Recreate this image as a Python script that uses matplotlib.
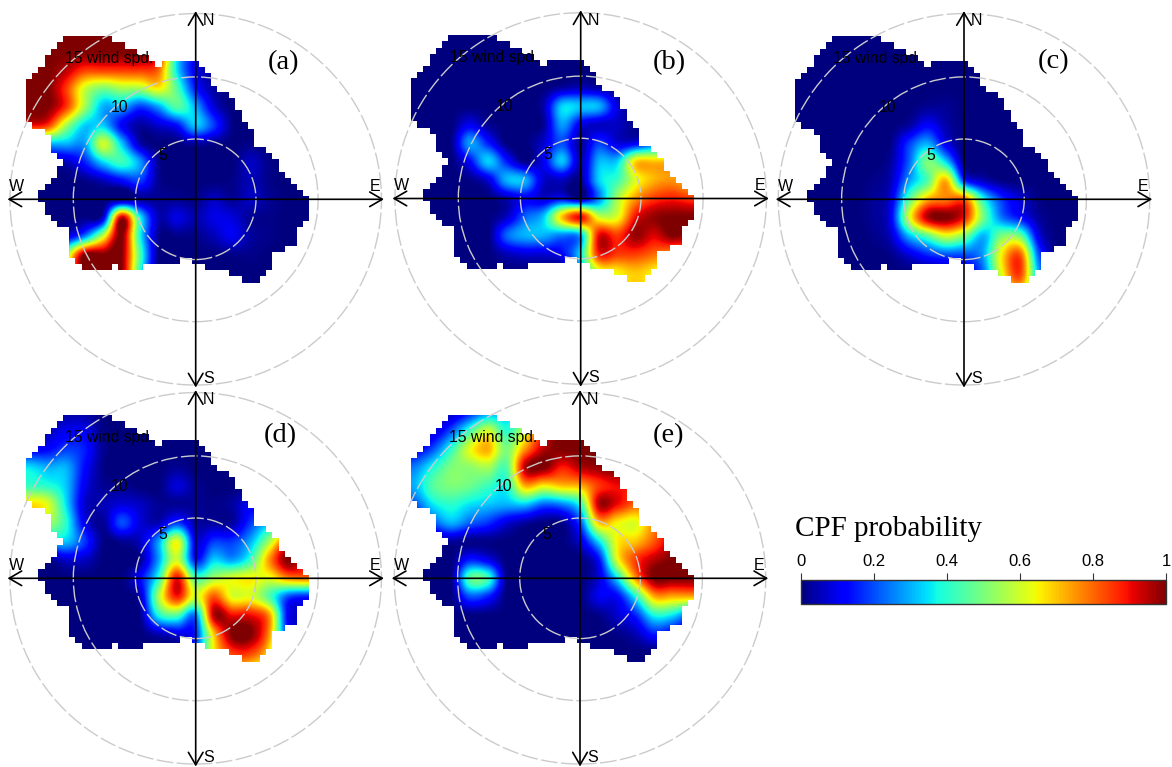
import numpy as np
import matplotlib
matplotlib.use("Agg")
import matplotlib.pyplot as plt
from matplotlib.path import Path
from matplotlib.patches import Circle
from matplotlib.cm import ScalarMappable
from matplotlib.colors import Normalize

# grid of the CPF field, wind speed components (columns west-east, rows north-south)
grid_u = [-13.5, -12, -10.5, -9, -7.5, -6, -4.5, -3, -1.5, 0, 1.5, 3, 4.5, 6, 7.5, 9, 10.5]
grid_v = [13.5, 12, 10.5, 9, 7.5, 6, 4.5, 3, 1.5, 0, -1.5, -3, -4.5, -6, -7.5]

panel_a = [
    [1, 1, 1, 1, 1, 1, 1, .7, .3, .1, 0, 0, 0, 0, 0, 0, 0],
    [1, 1, 1, 1, 1, 1, 1, .9, .35, .12, .02, 0, 0, 0, 0, 0, 0],
    [1, 1, .95, .85, .85, .85, .85, .8, .35, .1, .03, 0, 0, 0, 0, 0, 0],
    [1, 1, .85, .6, .5, .55, .55, .65, .45, .15, .03, 0, 0, 0, 0, 0, 0],
    [1, 1, .85, .55, .3, .3, .18, .28, .45, .3, .08, 0, 0, 0, 0, 0, 0],
    [.9, .85, .55, .33, .33, .12, .03, .07, .13, .32, .18, .01, 0, 0, 0, 0, 0],
    [.3, .3, .3, .28, .6, .33, .05, 0, 0, .03, .01, 0, .01, 0, 0, 0, 0],
    [.05, .05, .05, .15, .33, .42, .28, .02, 0, 0, 0, 0, .06, .01, 0, 0, 0],
    [0, 0, 0, .01, .05, .12, .18, .02, 0, 0, 0, .01, .05, .01, 0, 0, 0],
    [0, 0, 0, 0, 0, 0, .03, .02, .02, .01, .06, .02, .06, .02, 0, 0, 0],
    [0, 0, 0, .01, .08, .95, .38, .05, .09, .04, .09, .08, .02, .01, 0, 0, 0],
    [0, 0, .08, .25, .6, 1, .38, .02, .01, .01, .05, .1, .03, .01, 0, 0, 0],
    [0, 0, .5, 1, 1, 1, .45, .01, 0, 0, 0, .01, .01, 0, 0, 0, 0],
    [0, 0, .6, 1, 1, 1, .4, 0, 0, 0, 0, 0, 0, 0, 0, 0, 0],
    [0, 0, .6, 1, 1, 1, .4, 0, 0, 0, 0, 0, 0, 0, 0, 0, 0],
]
panel_b = [
    [0, 0, 0, 0, 0, 0, 0, 0, 0, 0, 0, 0, 0, 0, 0, 0, 0],
    [0, 0, 0, 0, 0, 0, 0, 0, 0, 0, 0, 0, 0, 0, 0, 0, 0],
    [0, 0, 0, 0, 0, 0, 0, 0, 0, 0, 0, 0, 0, 0, 0, 0, 0],
    [0, 0, 0, 0, 0, 0, 0, 0, .03, .05, .03, 0, 0, 0, 0, 0, 0],
    [0, 0, 0, 0, 0, 0, 0, .04, .33, .32, .3, .08, 0, 0, 0, 0, 0],
    [0, 0, 0, .1, .02, 0, 0, .02, .28, .1, .06, .06, .01, 0, 0, 0, 0],
    [0, 0, .01, .28, .15, 0, 0, .07, .2, .03, .18, .08, .1, .2, .2, 0, 0],
    [0, 0, 0, .12, .33, .15, .01, .1, .32, .05, .3, .33, .68, .7, .7, .7, 0],
    [0, 0, 0, .01, .08, .3, .3, .07, .06, .02, .33, .42, .62, .72, .75, .7, .7],
    [0, 0, 0, 0, 0, .05, .12, .07, .12, .03, .25, .55, .75, .85, .88, .85, .85],
    [0, 0, 0, 0, 0, .06, .22, .32, .7, .9, .6, .62, .9, .98, 1, 1, 1],
    [0, 0, 0, 0, 0, .22, .3, .3, .25, .3, .9, .85, .98, .92, 1, .95, .95],
    [0, 0, 0, 0, 0, .05, .08, .08, .12, .35, .88, .85, .85, .8, .75, .75, .75],
    [0, 0, 0, 0, 0, 0, 0, 0, 0, .3, .6, .65, .7, .65, .6, .6, .6],
    [0, 0, 0, 0, 0, 0, 0, 0, 0, .3, .6, .65, .7, .65, .6, .6, .6],
]
panel_c = [
    [0, 0, 0, 0, 0, 0, 0, 0, 0, 0, 0, 0, 0, 0, 0, 0, 0],
    [0, 0, 0, 0, 0, 0, 0, 0, 0, 0, 0, 0, 0, 0, 0, 0, 0],
    [0, 0, 0, 0, 0, 0, 0, 0, 0, 0, 0, 0, 0, 0, 0, 0, 0],
    [0, 0, 0, 0, 0, 0, 0, 0, 0, 0, 0, 0, 0, 0, 0, 0, 0],
    [0, 0, 0, 0, 0, 0, 0, .02, .02, 0, 0, 0, 0, 0, 0, 0, 0],
    [0, 0, 0, 0, 0, 0, .03, .12, .04, 0, 0, 0, 0, 0, 0, 0, 0],
    [0, 0, 0, 0, 0, .01, .18, .3, .1, 0, 0, 0, 0, 0, 0, 0, 0],
    [0, 0, 0, 0, 0, .03, .22, .5, .35, .01, 0, 0, 0, 0, 0, 0, 0],
    [0, 0, 0, 0, .01, .05, .28, .45, .72, .18, .06, .01, 0, 0, 0, 0, 0],
    [0, 0, 0, 0, .02, .08, .45, .72, .78, .8, .4, .18, .08, .01, 0, 0, 0],
    [0, 0, 0, 0, .02, .1, .6, .95, 1, .88, .5, .25, .14, .03, 0, 0, 0],
    [0, 0, 0, 0, .01, .06, .3, .45, .6, .5, .3, .5, .5, .1, 0, 0, 0],
    [0, 0, 0, 0, 0, .01, .08, .16, .2, .2, .28, .65, .82, .22, 0, 0, 0],
    [0, 0, 0, 0, 0, 0, 0, .01, .03, .08, .22, .62, .85, .3, 0, 0, 0],
    [0, 0, 0, 0, 0, 0, 0, 0, 0, 0, .2, .5, .7, .3, 0, 0, 0],
]
panel_d = [
    [0, .03, .03, .03, 0, 0, 0, 0, 0, 0, 0, 0, 0, 0, 0, 0, 0],
    [0, .05, .1, .1, .01, 0, 0, 0, 0, 0, 0, 0, 0, 0, 0, 0, 0],
    [.1, .12, .18, .15, .02, 0, 0, 0, 0, 0, 0, 0, 0, 0, 0, 0, 0],
    [.35, .3, .3, .13, .01, 0, 0, 0, .02, 0, 0, 0, 0, 0, 0, 0, 0],
    [.42, .4, .32, .1, .02, .02, 0, 0, .08, .02, 0, 0, 0, 0, 0, 0, 0],
    [.68, .62, .35, .07, .05, .08, .06, .02, .02, .02, .01, .03, .1, 0, 0, 0, 0],
    [.6, .55, .4, .1, .02, .2, .08, .05, .18, .04, .03, .03, .18, .3, .3, 0, 0],
    [.3, .3, .32, .18, .01, .02, .06, .28, .63, .1, .18, .18, .3, .55, .85, .85, 0],
    [0, .01, .07, .06, 0, 0, .02, .28, .6, .15, .33, .28, .42, .75, 1, .9, .9],
    [0, 0, 0, 0, 0, 0, .12, .4, .9, .45, .55, .62, .65, .62, .75, .78, .78],
    [0, 0, 0, 0, 0, 0, .05, .55, .88, .6, .82, .62, .62, .45, .2, .15, .15],
    [0, 0, 0, 0, 0, 0, .01, .38, .45, .25, .95, .9, .9, .75, .12, .1, .1],
    [0, 0, 0, 0, 0, 0, 0, .05, .09, .16, .7, 1, 1, .75, .15, .1, .1],
    [0, 0, 0, 0, 0, 0, 0, 0, 0, .2, .65, .85, .85, .65, .1, 0, 0],
    [0, 0, 0, 0, 0, 0, 0, 0, 0, .2, .6, .7, .65, .5, .1, 0, 0],
]
panel_e = [
    [.03, .05, .05, .15, .28, .32, .45, .6, .9, 1, 1, 0, 0, 0, 0, 0, 0],
    [.05, .07, .2, .42, .6, .4, .6, .85, 1, 1, .95, .9, 0, 0, 0, 0, 0],
    [.1, .2, .4, .62, .72, .5, .75, .95, 1, 1, 1, .95, .9, 0, 0, 0, 0],
    [.25, .38, .5, .52, .55, .45, .95, 1, .88, .95, .98, 1, .95, 0, 0, 0, 0],
    [.3, .45, .5, .48, .42, .38, .72, .65, .7, .72, .85, .9, .88, .85, 0, 0, 0],
    [.2, .35, .4, .35, .32, .3, .32, .22, .25, .4, .95, .9, .8, .8, 0, 0, 0],
    [.1, .2, .3, .22, .17, .08, .03, 0, .01, .2, .7, .65, .62, .78, .85, 0, 0],
    [0, .01, .03, .01, .01, 0, 0, 0, 0, .08, .35, .65, .7, .82, .95, .95, 0],
    [0, 0, 0, .15, .1, 0, 0, 0, 0, 0, .13, .62, .85, .95, 1, 1, 1],
    [0, 0, 0, .45, .42, .01, 0, 0, 0, 0, .08, .35, .75, 1, 1, 1, 1],
    [0, 0, 0, .2, .15, 0, 0, 0, 0, 0, .1, .12, .38, .72, .72, .72, .72],
    [0, 0, 0, 0, 0, 0, 0, 0, 0, 0, .01, .07, .16, .38, .35, .2, .2],
    [0, 0, 0, 0, 0, 0, 0, 0, 0, 0, 0, .01, .05, .15, .1, .03, 0],
    [0, 0, 0, 0, 0, 0, 0, 0, 0, 0, 0, 0, 0, 0, 0, 0, 0],
    [0, 0, 0, 0, 0, 0, 0, 0, 0, 0, 0, 0, 0, 0, 0, 0, 0],
]

# edge of the sampled wind range
edge_u = [-2.22, -0.19, .08, .49, 1.03, 1.44, 1.98, 2.93, 3.47, 3.6, 4.42, 4.69, 5.77, 6.59, 6.99, 7.67, 8.62, 9.16,
          9.35, 9.35, 8.48, 8.08, 6.31, 6.18, 5.5, 4.69, 4.15, 2.79, 1.44, .08, -1.0, -1.14, -4.25, -4.8, -6.02, -6.56,
          -7.24, -8.59, -9.67, -10.22, -10.08, -11.44, -12.66, -12.52, -11.57, -10.89, -11.84, -12.11, -13.6, -13.96,
          -13.96, -12.52, -12.38, -10.89, -10.08, -6.42, -5.88, -3.71, -3.04, -2.76]
edge_v = [11.46, 11.46, 11.06, 10.65, 10.03, 9.43, 8.94, 8.48, 7.53, 6.59, 6.04, 4.55, 4.15, 3.33, 2.11, 1.57, .76, .22,
          -.05, -1.41, -2.22, -3.58, -4.39, -5.47, -6.02, -6.83, -6.83, -6.02, -5.75, -5.07, -4.93, -5.34, -5.34, -5.88,
          -5.88, -5.34, -5.88, -5.88, -5.34, -4.39, -2.76, -1.82, -.05, .76, 1.44, 2.93, 4.28, 5.5, 6.04, 6.72,
          9.43, 10.65, 11.6, 12.95, 13.36, 12.95, 12.68, 11.6, 10.65, 11.06]

ring_speeds = [4.9, 9.95, 15.1]
cbar_ticks = [0, 0.2, 0.4, 0.6, 0.8, 1]
cbar_labels = ["0", "0.2", "0.4", "0.6", "0.8", "1"]

W, H = 1172, 767
PX = 12.3  # pixels per wind speed unit

plt.rcParams["font.family"] = ["Liberation Sans", "DejaVu Sans"]
fig = plt.figure(figsize=(W / 100, H / 100), dpi=100)

# white cover outside the sampled range, blocky like the original
ext = [grid_u[0] - .75, grid_u[-1] + .75, grid_v[-1] - .75, grid_v[0] + .75]
mask_u, mask_v = np.meshgrid(np.arange(ext[0] + .25, ext[1], .5), np.arange(ext[3] - .25, ext[2], -.5))
inside = Path(np.column_stack([edge_u, edge_v])).contains_points(np.column_stack([mask_u.ravel(), mask_v.ravel()]))
cover = np.ones(mask_u.shape + (4,))
cover[..., 3] = ~inside.reshape(mask_u.shape)


def draw_panel(values, cx, cy, letter, lx, ly):
    half = 16 * PX
    ax = fig.add_axes([(cx - half) / W, 1 - (cy + half) / H, 2 * half / W, 2 * half / H])
    ax.set_xlim(-16, 16)
    ax.set_ylim(-16, 16)
    ax.axis("off")
    ax.patch.set_alpha(0)

    ax.imshow(values, cmap="jet", vmin=0, vmax=1, extent=ext, interpolation="catrom", aspect="auto", zorder=1)
    ax.imshow(cover, extent=ext, interpolation="nearest", aspect="auto", zorder=2)
    ax.set_xlim(-16, 16)
    ax.set_ylim(-16, 16)

    for r in ring_speeds:
        ax.add_patch(Circle((0, 0), r, fill=False, ec="#cbcbcb", lw=1.0, ls=(0, (12, 2.5)), zorder=3, clip_on=False))

    arrow = dict(arrowstyle="<->,head_length=0.6,head_width=0.35", color="black", lw=1.2,
                 shrinkA=0, shrinkB=0, mutation_scale=15)
    ax.annotate("", xy=(15.3, 0), xytext=(-15.3, 0), arrowprops=arrow, zorder=4, annotation_clip=False)
    ax.annotate("", xy=(0, 15.3), xytext=(0, -15.3), arrowprops=arrow, zorder=4, annotation_clip=False)

    for name, x, y in [("N", 1.05, 14.5), ("S", 1.05, -14.55), ("E", 14.55, 1.05), ("W", -14.55, 1.05)]:
        ax.text(x, y, name, fontsize=11.5, ha="center", va="center", zorder=5)
    ax.text(-10.65, 11.46, "15 wind spd.", fontsize=11.3, ha="left", va="center", zorder=5)
    ax.text(-6.2, 7.5, "10", fontsize=11.3, ha="center", va="center", zorder=5)
    ax.text(-2.7, 3.6, "5", fontsize=11.3, ha="center", va="center", zorder=5)
    ax.text(lx, ly, letter, fontsize=20.5, family="Liberation Serif", ha="center", va="center", zorder=5)


draw_panel(panel_a, 195.7, 199.3, "(a)", 7.15, 11.15)
draw_panel(panel_b, 580.7, 198.5, "(b)", 7.2, 11.05)
draw_panel(panel_c, 964.0, 199.3, "(c)", 7.3, 11.2)
draw_panel(panel_d, 195.7, 578.3, "(d)", 6.85, 11.6)
draw_panel(panel_e, 580.0, 578.3, "(e)", 7.2, 11.6)

# colour bar
cax = fig.add_axes([801 / W, 1 - 604 / H, 365 / W, 24 / H])
cb = fig.colorbar(ScalarMappable(Normalize(0, 1), "jet"), cax=cax, orientation="horizontal")
cb.set_ticks(cbar_ticks, labels=cbar_labels)
cax.xaxis.set_ticks_position("top")
cax.tick_params(length=5, width=0.8, labelsize=12, pad=3, color="#333333")
cb.outline.set_edgecolor("#333333")
cb.outline.set_linewidth(1.0)
fig.text(795 / W, 1 - 536 / H, "CPF probability", fontsize=21, family="Liberation Serif", ha="left", va="baseline")

fig.savefig("out.png", dpi=100, facecolor="white")
